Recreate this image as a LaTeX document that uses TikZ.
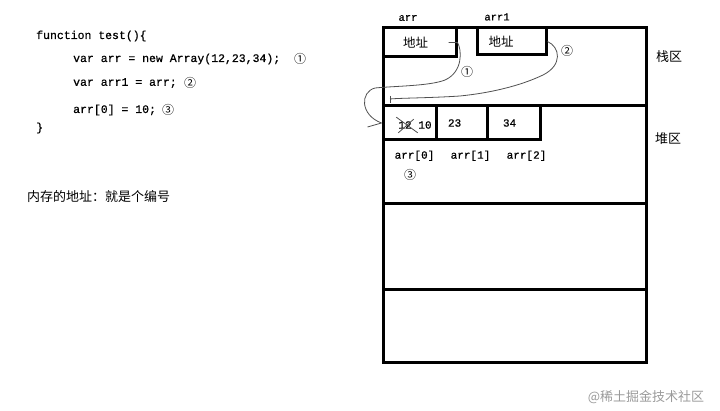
\documentclass[tikz,border=0pt]{standalone}
\usepackage{fontspec}
\setmonofont{Liberation Mono}[FakeBold=0.7]
\newfontfamily\cjk{Noto Sans CJK SC}
\usepackage{tikz}
\usetikzlibrary{positioning}
\definecolor{inkgray}{HTML}{505050}
\definecolor{wmgray}{HTML}{9A9A9A}

\begin{document}
\begin{tikzpicture}[x=1pt, y=-1pt,
    code/.style={anchor=west, inner sep=0pt, font=\ttfamily\fontsize{11.5}{13}\selectfont},
    label/.style={inner sep=0pt, font=\ttfamily\fontsize{10.5}{12}\selectfont},
    index/.style={inner sep=0pt, font=\ttfamily\fontsize{11}{13}\selectfont},
    cjktext/.style={inner sep=0pt, font=\cjk\fontsize{13}{15}\selectfont},
    circnum/.style={inner sep=0pt, font=\cjk\fontsize{12}{14}\selectfont},
    slot/.style={rectangle, draw, line width=3pt, inner sep=0pt, align=left,
                 font=\cjk\fontsize{12.5}{14}\selectfont},
    cell/.style={rectangle, draw, line width=3pt, inner sep=0pt, align=left,
                 minimum height=34pt, font=\ttfamily\fontsize{11}{13}\selectfont},
    region/.style={draw, line width=3pt},
    link/.style={draw=inkgray, line width=0.8pt}
]
    \useasboundingbox (0,0) rectangle (720,411);

    % code on the left
    \node[code] (l1) at (36,36) {function test()\{};
    \node[code] (l2) at (73,59) {var arr = new Array(12,23,34);};
    \node[code] (l3) at (73,83) {var arr1 = arr;};
    \node[code] (l4) at (73,110) {arr[0] = 10;};
    \node[code] (l5) at (36,128) {\}};
    \node[circnum] (c1) at (300,59) {①};
    \node[circnum] (c2) at (190,83) {②};
    \node[circnum] (c3) at (168,110) {③};
    \node[cjktext, anchor=west] (note) at (27,197) {内存的地址：就是个编号};

    % memory
    \draw[region] (383,28) rectangle (646,363);
    \draw[region] (383,106) -- (646,106);
    \draw[region] (383,204) -- (646,204);
    \draw[region] (383,290) -- (646,290);
    \node[cjktext] (stack) at (669,57) {栈区};
    \node[cjktext] (heap) at (668,139) {堆区};

    % stack slots
    \node[slot, minimum width=73pt, minimum height=29pt, text width=33pt] (addr0) at (419.5,42.5) {地址};
    \node[slot, minimum width=69pt, minimum height=27pt, text width=46pt] (addr1) at (511.5,41.5) {地址};
    \node[label] (n0) at (408,18) {arr};
    \node[label] (n1) at (497,17) {arr1};

    % heap cells
    \node[cell, minimum width=53pt] (cell0) at (409.5,123) {};
    \node[cell, minimum width=51pt, text width=27pt, right=-3pt of cell0] (cell1) {23};
    \node[cell, minimum width=53pt, text width=21pt, right=-3pt of cell1] (cell2) {34};
    \node[index] (old) at (405,125) {12};
    \node[index] (new) at (425,125) {10};
    \draw[link] ([shift={(-2pt,4pt)}]old.north west) -- ([shift={(6pt,-4pt)}]old.south east);
    \draw[link] ([shift={(0pt,-4pt)}]old.south west) -- ([shift={(2pt,2pt)}]old.north east);
    \node[index, below right=9pt and -43pt of cell0.south east] (i0) {arr[0]};
    \node[index, right=16pt of i0] (i1) {arr[1]};
    \node[index, right=16pt of i1] (i2) {arr[2]};
    \node[circnum] (c3b) at (410,175) {③};

    % pointers
    \coordinate (tip2) at (390,99);
    \draw[link] ([xshift=-9pt]addr0.east) -- (addr0.east)
        .. controls (462,50) and (463,72) .. (445,80)
        .. controls (430,86) and (395,86) .. (375,88)
        .. controls (360,92) and (360,115) .. (cell0.west);
    \draw[link] (cell0.west) -- ++(-14,4);
    \node[circnum] (p1) at (467,72) {①};
    \draw[link] (addr1.east)
        .. controls (560,47) and (563,65) .. (543,75)
        .. controls (520,86) and (490,93) .. (460,96)
        .. controls (430,98) and (400,98) .. (tip2);
    \draw[link] ([yshift=3pt]tip2) -- ([yshift=-4pt]tip2);
    \node[circnum] (p2) at (567,51) {②};

    % watermark
    \node[inner sep=0pt, text=wmgray, font=\cjk\fontsize{13}{15}\selectfont] (wm) at (646,397) {@稀土掘金技术社区};
\end{tikzpicture}
\end{document}
